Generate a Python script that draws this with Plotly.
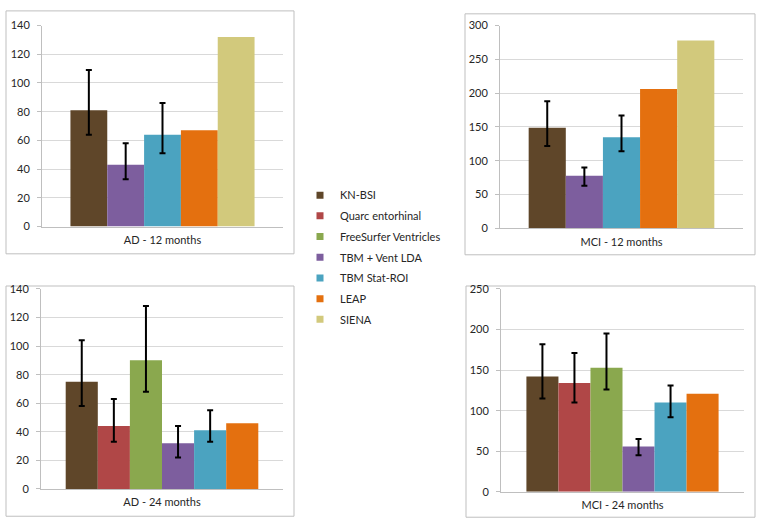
import plotly.graph_objects as go

# ---------------- data ----------------
series_names = ["KN-BSI", "Quarc entorhinal", "FreeSurfer Ventricles",
                "TBM + Vent LDA", "TBM Stat-ROI", "LEAP", "SIENA"]
series_colors = ["#5F4629", "#B04747", "#8AA84E", "#7D5E9E", "#4BA3C0", "#E4700F", "#D2C97C"]

panel_titles = ["AD - 12 months", "MCI - 12 months", "AD - 24 months", "MCI - 24 months"]

ad12_values = [81, None, None, 43, 64, 67, 132]
ad12_low    = [64, None, None, 33, 51, None, None]
ad12_high   = [109, None, None, 58, 86, None, None]

mci12_values = [149, None, None, 78, 135, 206, 278]
mci12_low    = [122, None, None, 63, 114, None, None]
mci12_high   = [188, None, None, 90, 167, None, None]

ad24_values = [75, 44, 90, 32, 41, 46, None]
ad24_low    = [58, 33, 68, 22, 33, None, None]
ad24_high   = [104, 63, 128, 44, 55, None, None]

mci24_values = [142, 134, 153, 56, 110, 121, None]
mci24_low    = [115, 110, 126, 45, 92, None, None]
mci24_high   = [182, 171, 195, 65, 131, None, None]

y_max   = [140, 300, 140, 250]
y_dtick = [20, 50, 20, 50]

panels = [
    (ad12_values, ad12_low, ad12_high),
    (mci12_values, mci12_low, mci12_high),
    (ad24_values, ad24_low, ad24_high),
    (mci24_values, mci24_low, mci24_high),
]

# ---------------- layout geometry (pixels) ----------------
W, H = 762, 532
plot_boxes = [(42, 19, 283, 225), (500, 19, 743, 227), (41, 289, 283, 494), (501, 289, 744, 497)]
frames = [(6, 4, 294, 253), (465, 7, 755, 254), (6, 286, 294, 522), (466, 286, 755, 523)]
x_half_range = [0.5, 0.5, 0.48, 0.483]

def px_x(v):
    return v / W

def px_y(v):
    return 1 - v / H

FONT = "Lato, 'Open Sans', sans-serif"
TXT = "#262626"

fig = go.Figure()

for si, name in enumerate(series_names):
    for pi, (vals, lows, highs) in enumerate(panels):
        v = vals[si]
        if v is None:
            continue
        ax = "" if pi == 0 else str(pi + 1)
        err = None
        if lows[si] is not None:
            err = dict(type="data", symmetric=False,
                       array=[highs[si] - v], arrayminus=[v - lows[si]],
                       color="black", thickness=2, width=3)
        fig.add_trace(go.Bar(
            x=[panel_titles[pi]], y=[v], name=name,
            marker=dict(color=series_colors[si], line=dict(width=0)),
            error_y=err, showlegend=False, hoverinfo="skip",
            xaxis="x" + ax, yaxis="y" + ax,
        ))

# legend entries
for si, name in enumerate(series_names):
    fig.add_trace(go.Scatter(
        x=[None], y=[None], mode="markers", name=name,
        legendgroup=name,
        marker=dict(symbol="square", size=7, color=series_colors[si]),
        showlegend=True, xaxis="x", yaxis="y",
    ))

layout = dict(
    width=W, height=H,
    margin=dict(l=0, r=0, t=0, b=0),
    paper_bgcolor="white", plot_bgcolor="white",
    barmode="group", bargap=0.236, bargroupgap=0,
    font=dict(family=FONT, size=11, color=TXT),
    legend=dict(x=px_x(300), y=px_y(178), xanchor="left", yanchor="top",
                font=dict(family=FONT, size=11, color=TXT),
                itemwidth=30, tracegroupgap=1.7, bgcolor="rgba(0,0,0,0)"),
    shapes=[],
)

for pi in range(4):
    ax = "" if pi == 0 else str(pi + 1)
    x0, y0, x1, y1 = plot_boxes[pi]
    r = x_half_range[pi]
    layout["xaxis" + ax] = dict(
        domain=[px_x(x0), px_x(x1)], anchor="y" + ax,
        type="category", range=[-r, r],
        showline=True, linecolor="#BFBFBF", linewidth=1,
        showgrid=False, zeroline=False, ticks="",
        ticklabelstandoff=3,
        tickfont=dict(family=FONT, size=11, color=TXT),
        fixedrange=True,
    )
    layout["yaxis" + ax] = dict(
        domain=[px_y(y1), px_y(y0)], anchor="x" + ax,
        range=[0, y_max[pi]], dtick=y_dtick[pi], tick0=0,
        showline=True, linecolor="#BFBFBF", linewidth=1,
        showgrid=True, gridcolor="#D9D9D9", gridwidth=1,
        zeroline=False, ticks="outside", ticklen=4, tickcolor="#BFBFBF",
        ticklabelstandoff=5,
        tickfont=dict(family=FONT, size=11, color=TXT),
        fixedrange=True,
    )
    fx0, fy0, fx1, fy1 = frames[pi]
    layout["shapes"].append(dict(
        type="rect", xref="paper", yref="paper",
        x0=px_x(fx0), x1=px_x(fx1), y0=px_y(fy1), y1=px_y(fy0),
        line=dict(color="#BFBFBF", width=1), fillcolor="rgba(0,0,0,0)", layer="below",
    ))

fig.update_layout(**layout)
fig.write_html("out.html",
               config={"displayModeBar": False},
               post_script="document.body.style.margin='0';document.body.style.overflow='hidden';")
